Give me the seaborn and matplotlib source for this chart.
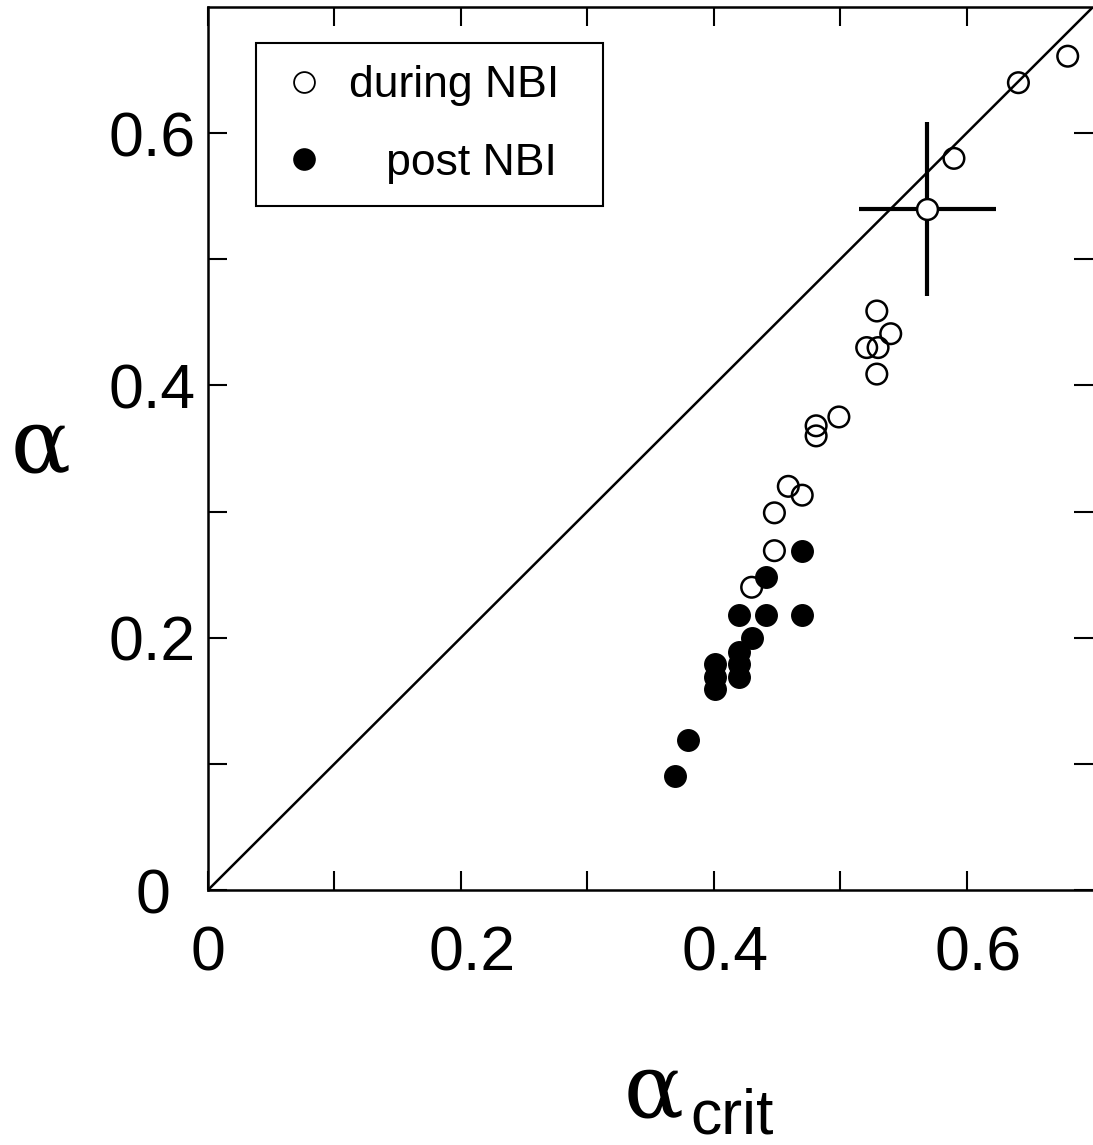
import numpy as np
import matplotlib
matplotlib.use('Agg')
import matplotlib.pyplot as plt
import matplotlib.transforms as mtransforms
from matplotlib.lines import Line2D
import seaborn as sns

# open circles (during NBI)
during_x = [0.680, 0.641, 0.590, 0.529, 0.540, 0.521, 0.530, 0.529, 0.499,
            0.481, 0.481, 0.459, 0.470, 0.448, 0.448, 0.430]
during_y = [0.661, 0.640, 0.580, 0.459, 0.441, 0.430, 0.430, 0.409, 0.375,
            0.368, 0.360, 0.320, 0.313, 0.299, 0.269, 0.240]

# the during-NBI point that carries error bars
bar_x = [0.569]
bar_y = [0.540]
bar_xerr = [0.054]
bar_yerr = [0.069]

# filled circles (post NBI)
post_x = [0.470, 0.441, 0.420, 0.441, 0.470, 0.430, 0.420, 0.420, 0.420,
          0.401, 0.401, 0.401, 0.380, 0.369]
post_y = [0.269, 0.248, 0.218, 0.218, 0.218, 0.200, 0.189, 0.179, 0.169,
          0.179, 0.169, 0.159, 0.119, 0.090]

tick_pos = [0, 0.1, 0.2, 0.3, 0.4, 0.5, 0.6]
tick_labels = ['0', '', '0.2', '', '0.4', '', '0.6']

sns.set_style('ticks')
plt.rcParams['font.family'] = ['Liberation Sans', 'DejaVu Sans']
plt.rcParams['text.color'] = 'black'

fig = plt.figure(figsize=(10.93, 11.45), dpi=100)
ax = fig.add_axes([208 / 1093, 255 / 1145, 885 / 1093, 883 / 1145])

# y = x reference line
ax.axline((0, 0), slope=1, color='black', lw=1.8, zorder=2)

sns.scatterplot(x=during_x, y=during_y, marker='o', s=220, facecolor='none',
                edgecolor='black', linewidth=1.8, legend=False, ax=ax, zorder=3)
ax.errorbar(bar_x, bar_y, xerr=bar_xerr, yerr=bar_yerr, fmt='o', ms=15,
            mfc='white', mec='black', mew=1.8, ecolor='black', elinewidth=3,
            capsize=0, zorder=3)
sns.scatterplot(x=post_x, y=post_y, marker='o', s=240, color='black',
                edgecolor='black', linewidth=1, legend=False, ax=ax, zorder=4)

ax.set_xlim(0, 0.7)
ax.set_ylim(0, 0.7)
ax.set_xticks(tick_pos)
ax.set_xticklabels(tick_labels)
ax.set_yticks(tick_pos)
ax.set_yticklabels(tick_labels)
ax.tick_params(direction='in', length=13.5, width=1.5, top=True, right=True,
               labelsize=45, colors='black')
ax.tick_params(axis='x', pad=25)
ax.tick_params(axis='y', pad=40)
for lab in ax.get_yticklabels():
    lab.set_ha('center')
shift = mtransforms.ScaledTranslation(0.11, 0, fig.dpi_scale_trans)
for lab in ax.get_xticklabels()[1:]:
    lab.set_transform(lab.get_transform() + shift)

for side in ['left', 'bottom', 'top']:
    ax.spines[side].set_linewidth(1.8)
    ax.spines[side].set_color('black')
ax.spines['right'].set_visible(False)
ax.set_xlabel('')
ax.set_ylabel('')

handles = [
    Line2D([], [], marker='o', ls='none', mfc='none', mec='black', ms=15, mew=1.3),
    Line2D([], [], marker='o', ls='none', mfc='black', mec='black', ms=15, mew=1.3),
]
leg = ax.legend(handles, ['during NBI', '   post NBI'], loc='upper left',
                bbox_to_anchor=(0.0542, 0.7592, 0.392, 0.2), mode='expand',
                borderaxespad=0, fontsize=32, frameon=True, fancybox=False,
                framealpha=1, borderpad=0.5, handlelength=1.15,
                handletextpad=0.45, labelspacing=0.82)
leg.get_frame().set_edgecolor('black')
leg.get_frame().set_linewidth(1.5)

# axis labels: serif alpha, sans subscript
fig.text(41 / 1093, 1 - 472 / 1145, 'α', family='DejaVu Serif',
         fontsize=64, ha='center', va='baseline')
fig.text(654 / 1093, 1 - 1117 / 1145, 'α', family='DejaVu Serif',
         fontsize=64, ha='center', va='baseline')
fig.text(690 / 1093, 1 - 1133 / 1145, 'crit', fontsize=45, ha='left',
         va='baseline')

fig.savefig('out.png', dpi=100, facecolor='white')
